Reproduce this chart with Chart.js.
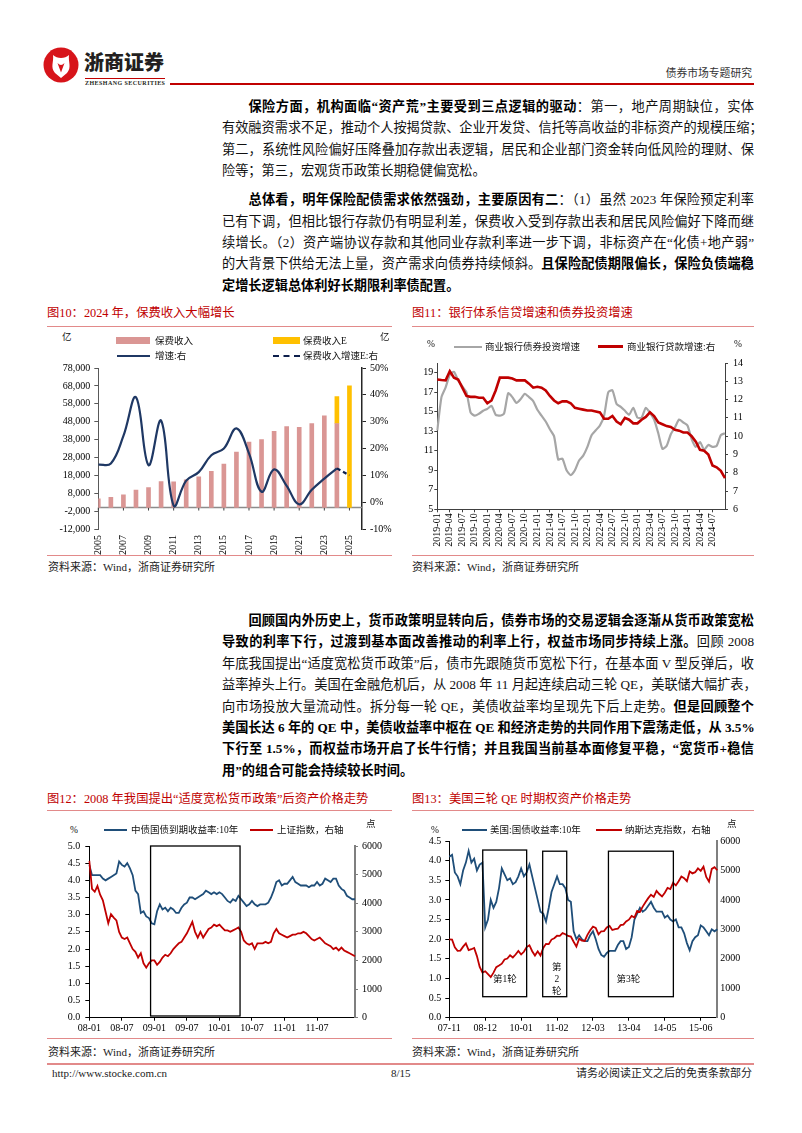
<!DOCTYPE html>
<html lang="zh-CN">
<head>
<meta charset="utf-8">
<title>债券市场专题研究</title>
<script src="https://cdn.jsdelivr.net/npm/chart.js@4.4.1/dist/chart.umd.min.js"></script>
<style>
  body { margin: 0; background: #fff; }
  #page { position: relative; width: 802px; height: 1133px; overflow: hidden; background: #fff;
          font-family: 'Liberation Serif', 'Noto Sans CJK SC', serif; color: #111; }
  .abs { position: absolute; white-space: nowrap; }
  .para { position: absolute; left: 222px; width: 532px; font-size: 13.2px; line-height: 21.4px; }
  .para div { height: 21.4px; white-space: nowrap; text-align: justify; text-align-last: justify; }
  .para div.ind { padding-left: 26.4px; }
  .para div.last { text-align-last: left; }
  .para b { font-weight: bold; color: #000; }
  .title { position: absolute; font-size: 12.3px; color: #c00000; white-space: nowrap; line-height: 14px; }
  .rule { position: absolute; height: 1px; background: #e28a8a; }
  .src { position: absolute; font-size: 11px; color: #222; white-space: nowrap; line-height: 12px; }
  .lg { position: absolute; font-size: 9.5px; color: #111; white-space: nowrap; line-height: 10px; }
  canvas { position: absolute; }
</style>
</head>
<body>
<div id="page">
  <!-- header -->
  <svg class="abs" style="left:43px;top:47px" width="36" height="36" viewBox="0 0 36 36">
    <circle cx="18" cy="18" r="17.5" fill="#d7141a"/>
    <path d="M10 8 C 14 12, 22 12, 26 8 C 25 15, 29 20, 24 26 L 18 31 L 12 26 C 7 20, 11 15, 10 8 Z" fill="#fff"/>
    <path d="M14.5 16 C 17 18.5, 19 18.5, 21.5 16 L 18 25.5 Z" fill="#d7141a"/>
  </svg>
  <div class="abs" style="left:84px;top:50px;font-size:20px;font-weight:900;color:#231f20;line-height:24px;font-family:'Noto Sans CJK SC'">浙商证券</div>
  <div class="abs" style="left:85px;top:78px;width:80px;height:1px;background:#c00000"></div>
  <div class="abs" style="left:85px;top:79.5px;font-size:6px;font-weight:bold;letter-spacing:0.45px;color:#231f20;line-height:7px">ZHESHANG SECURITIES</div>
  <div class="abs" style="left:170px;top:83px;width:584px;height:2px;background:#c00000"></div>
  <div class="abs" style="right:50px;top:66px;font-size:10.8px;color:#333;line-height:14px">债券市场专题研究</div>

  <!-- paragraph 1 -->
  <div class="para" style="top:96px">
    <div class="ind"><b>保险方面，机构面临“资产荒”主要受到三点逻辑的驱动</b>：第一，地产周期缺位，实体</div>
    <div>有效融资需求不足，推动个人按揭贷款、企业开发贷、信托等高收益的非标资产的规模压缩；</div>
    <div>第二，系统性风险偏好压降叠加存款出表逻辑，居民和企业部门资金转向低风险的理财、保</div>
    <div class="last">险等；第三，宏观货币政策长期稳健偏宽松。</div>
  </div>
  <!-- paragraph 2 -->
  <div class="para" style="top:189.3px">
    <div class="ind"><b>总体看，明年保险配债需求依然强劲，主要原因有二</b>：（1）虽然 2023 年保险预定利率</div>
    <div>已有下调，但相比银行存款仍有明显利差，保费收入受到存款出表和居民风险偏好下降而继</div>
    <div>续增长。（2）资产端协议存款和其他同业存款利率进一步下调，非标资产在“化债+地产弱”</div>
    <div>的大背景下供给无法上量，资产需求向债券持续倾斜。<b>且保险配债期限偏长，保险负债端稳</b></div>
    <div class="last"><b>定增长逻辑总体利好长期限利率债配置。</b></div>
  </div>

  <!-- figure titles row 1 -->
  <div class="title" style="left:47px;top:306px">图10：2024 年，保费收入大幅增长</div>
  <div class="rule" style="left:47px;top:326px;width:345px"></div>
  <div class="title" style="left:412px;top:306px">图11：银行体系信贷增速和债券投资增速</div>
  <div class="rule" style="left:412px;top:326px;width:342px"></div>

  <canvas id="chart10" width="360" height="197" style="left:40px;top:358px"></canvas>
  <canvas id="chart11" width="360" height="200" style="left:405px;top:352px"></canvas>

  <!-- legend chart 10 -->
  <div class="lg" style="left:62px;top:332px">亿</div>
  <div class="abs" style="left:116px;top:337px;width:34px;height:7px;background:#da9694"></div>
  <div class="lg" style="left:155px;top:335.5px">保费收入</div>
  <div class="abs" style="left:273px;top:337px;width:27px;height:7px;background:#ffc000"></div>
  <div class="lg" style="left:303px;top:335.5px">保费收入E</div>
  <div class="lg" style="left:380px;top:332px">亿</div>
  <div class="abs" style="left:117px;top:355px;width:33px;height:0;border-top:2px solid #1f3864"></div>
  <div class="lg" style="left:155px;top:351px">增速:右</div>
  <div class="abs" style="left:273px;top:355px;width:27px;height:0;border-top:2px dashed #0d1f4c"></div>
  <div class="lg" style="left:303px;top:351px">保费收入增速E:右</div>

  <!-- legend chart 11 -->
  <div class="lg" style="left:427px;top:339px">%</div>
  <div class="abs" style="left:454px;top:345.5px;width:28px;height:2.5px;background:#a6a6a6"></div>
  <div class="lg" style="left:485px;top:342px">商业银行债券投资增速</div>
  <div class="abs" style="left:598px;top:345px;width:25px;height:3px;background:#c00000"></div>
  <div class="lg" style="left:627px;top:342px">商业银行贷款增速:右</div>
  <div class="lg" style="left:734px;top:339px">%</div>

  <div class="rule" style="left:47px;top:555px;width:345px"></div>
  <div class="src" style="left:48px;top:561px">资料来源：Wind，浙商证券研究所</div>
  <div class="rule" style="left:412px;top:555px;width:342px"></div>
  <div class="src" style="left:412px;top:561px">资料来源：Wind，浙商证券研究所</div>

  <!-- paragraph 3 -->
  <div class="para" style="top:610px">
    <div class="ind"><b>回顾国内外历史上，货币政策明显转向后，债券市场的交易逻辑会逐渐从货币政策宽松</b></div>
    <div><b>导致的利率下行，过渡到基本面改善推动的利率上行，权益市场同步持续上涨。</b>回顾 2008</div>
    <div>年底我国提出“适度宽松货币政策”后，债市先跟随货币宽松下行，在基本面 V 型反弹后，收</div>
    <div>益率掉头上行。美国在金融危机后，从 2008 年 11 月起连续启动三轮 QE，美联储大幅扩表，</div>
    <div>向市场投放大量流动性。拆分每一轮 QE，美债收益率均呈现先下后上走势。<b>但是回顾整个</b></div>
    <div><b>美国长达 6 年的 QE 中，美债收益率中枢在 QE 和经济走势的共同作用下震荡走低，从 3.5%</b></div>
    <div><b>下行至 1.5%，而权益市场开启了长牛行情；并且我国当前基本面修复平稳，“宽货币+稳信</b></div>
    <div class="last"><b>用”的组合可能会持续较长时间。</b></div>
  </div>

  <!-- figure titles row 2 -->
  <div class="title" style="left:47px;top:792px">图12：2008 年我国提出“适度宽松货币政策”后资产价格走势</div>
  <div class="rule" style="left:47px;top:810px;width:345px"></div>
  <div class="title" style="left:412px;top:792px">图13：美国三轮 QE 时期权资产价格走势</div>
  <div class="rule" style="left:412px;top:810px;width:342px"></div>

  <canvas id="chart12" width="360" height="203" style="left:40px;top:835px"></canvas>
  <canvas id="chart13" width="360" height="207" style="left:405px;top:831px"></canvas>

  <!-- legend chart 12 -->
  <div class="lg" style="left:70px;top:825px">%</div>
  <div class="abs" style="left:104px;top:829px;width:23px;height:2px;background:#1f4e79"></div>
  <div class="lg" style="left:131px;top:825px">中债国债到期收益率:10年</div>
  <div class="abs" style="left:250px;top:829px;width:23px;height:2px;background:#c00000"></div>
  <div class="lg" style="left:277px;top:825px">上证指数，右轴</div>
  <div class="lg" style="left:366px;top:819px">点</div>

  <!-- legend chart 13 -->
  <div class="lg" style="left:431px;top:825px">%</div>
  <div class="abs" style="left:462px;top:829px;width:25px;height:2px;background:#1f4e79"></div>
  <div class="lg" style="left:490px;top:825px">美国:国债收益率:10年</div>
  <div class="abs" style="left:596px;top:829px;width:26px;height:2px;background:#c00000"></div>
  <div class="lg" style="left:625px;top:825px">纳斯达克指数，右轴</div>
  <div class="lg" style="left:727px;top:819px">点</div>

  <div class="rule" style="left:47px;top:1038px;width:345px"></div>
  <div class="src" style="left:48px;top:1046px">资料来源：Wind，浙商证券研究所</div>
  <div class="rule" style="left:412px;top:1038px;width:342px"></div>
  <div class="src" style="left:412px;top:1046px">资料来源：Wind，浙商证券研究所</div>

  <!-- footer -->
  <div class="abs" style="left:47px;top:1063px;width:707px;height:1.5px;background:#e28a8a"></div>
  <div class="src" style="left:52px;top:1067px">http://www.stocke.com.cn</div>
  <div class="src" style="left:391px;top:1067px">8/15</div>
  <div class="src" style="right:50px;top:1067px">请务必阅读正文之后的免责条款部分</div>
</div>

<script>
// ---- 图10 保费收入 ----
const years10 = ["2005", "2006", "2007", "2008", "2009", "2010", "2011", "2012", "2013", "2014", "2015",
    "2016", "2017", "2018", "2019", "2020", "2021", "2022", "2023", "2024", "2025", ""];
const premium = [4927, 5641, 7036, 9784, 11137, 14528, 14339, 15488, 17222, 20235, 24283,
    30959, 36581, 38017, 42645, 45257, 44900, 46957, 51247, 47000, null, null];
const premiumE = [null, null, null, null, null, null, null, null, null, null, null,
    null, null, null, null, null, null, null, null, 15000, 68000, null];
const growth = [14.0, 14.4, 24.7, 39.1, 13.8, 30.4, -1.3, 8.0, 11.2, 17.5, 20.0,
    27.5, 18.2, 3.9, 12.2, 6.1, -0.8, 4.6, 8.8, 12.6, null, null];
const growthE = [null, null, null, null, null, null, null, null, null, null, null,
    null, null, null, null, null, null, null, null, 12.6, 10.0, null];
const ticksYi = [-12000, -2000, 8000, 18000, 28000, 38000, 48000, 58000, 68000, 78000];
const ticksPct = [-10, 0, 10, 20, 30, 40, 50];

// ---- 图11 银行信贷与债券投资 ----
const months11 = [];
for (let y = 2019; y <= 2024; y++) {
    for (let m = 1; m <= 12; m++) {
        if (y < 2024 || m <= 10) months11.push(y + "-" + String(m).padStart(2, "0"));
    }
}
const bondGrowth = [13.1, 16.5, 17.5, 18.8, 19.1, 18.2, 17.6, 17.0, 14.9, 14.6,
    14.8, 15.1, 15.3, 15.6, 14.7, 14.6, 14.8, 16.9, 16.5, 15.9,
    16.3, 16.85, 16.5, 16.1, 15.2, 14.6, 14.0, 13.2, 12.5, 10.1,
    10.2, 9.0, 8.5, 9.0, 10.0, 10.5, 11.4, 12.6, 13.1, 13.6,
    14.6, 17.0, 17.2, 15.8, 15.5, 15.1, 14.7, 15.4, 14.4, 14.4,
    15.4, 14.9, 14.2, 12.8, 11.2, 11.5, 12.7, 13.4, 14.2, 13.9,
    13.6, 12.2, 11.4, 11.9, 11.1, 11.6, 11.4, 11.5, 12.6, 12.8];
const loanGrowth = [13.1, 13.07, 13.05, 13.55, 13.2, 13.1, 12.65, 12.2, 12.15, 12.15,
    12.1, 12.1, 11.8, 11.95, 12.5, 13.2, 13.2, 13.2, 13.15, 13.05,
    13.05, 13.05, 12.87, 12.65, 12.7, 12.65, 12.5, 12.2, 11.95, 11.8,
    11.9, 11.9, 11.8, 11.55, 11.5, 11.45, 11.4, 11.4, 11.35, 11.3,
    10.95, 10.95, 11.1, 10.8, 10.65, 11.0, 10.9, 10.7, 10.7, 10.9,
    11.05, 11.3, 11.1, 10.75, 10.65, 10.55, 10.5, 10.35, 10.3, 10.2,
    10.2, 10.0, 9.7, 9.25, 9.2, 9.0, 8.4, 8.3, 8.1, 7.7];
const ticksLeft11 = [5, 7, 9, 11, 13, 15, 17, 19];
const ticksRight11 = [6, 7, 8, 9, 10, 11, 12, 13, 14];

// ---- 图12 2008年适度宽松 (半月) ----
const cnYield = [4.45, 4.15, 4.15, 4.15, 4.15, 4.05, 4.0, 4.05, 4.1, 4.15,
    4.2, 4.55, 4.45, 4.4, 4.5, 4.35, 4.15, 3.7, 3.6, 3.05,
    3.1, 2.95, 2.9, 2.75, 2.72, 3.1, 3.3, 3.15, 3.2, 3.1,
    3.2, 3.15, 3.05, 3.05, 3.2, 3.3, 3.35, 3.5, 3.5, 3.45,
    3.5, 3.55, 3.6, 3.7, 3.65, 3.6, 3.65, 3.6, 3.65, 3.6,
    3.5, 3.4, 3.35, 3.45, 3.4, 3.55, 3.45, 3.35, 3.25, 3.3,
    3.4, 3.3, 3.25, 3.3, 3.3, 3.3, 3.35, 3.5, 3.7, 3.95,
    4.0, 3.85, 3.9, 3.9, 4.0, 4.1, 3.95, 3.9, 3.85, 3.85,
    3.85, 3.8, 3.85, 3.85, 3.95, 3.85, 3.9, 4.05, 4.0, 3.95,
    4.05, 4.05, 3.85, 3.75, 3.7, 3.55, 3.5, 3.45, 3.45];
const shIndex = [5480, 4500, 4400, 4600, 4300, 4100, 3700, 3300, 3620, 3500,
    3400, 3000, 2800, 2750, 2800, 2600, 2400, 2300, 2100, 2250,
    1900, 1750, 1900, 2000, 2000, 1850, 1950, 2100, 2200, 2150,
    2250, 2400, 2500, 2600, 2650, 2800, 2950, 3150, 3350, 3000,
    2800, 3000, 2800, 2950, 3100, 3150, 3250, 3200, 3250, 3150,
    3050, 3050, 3000, 3050, 3100, 3150, 3000, 2700, 2600, 2550,
    2600, 2400, 2600, 2600, 2600, 2650, 2600, 2650, 2950, 3100,
    2950, 2900, 2850, 2800, 2850, 2900, 2900, 2950, 2950, 3000,
    2950, 2850, 2750, 2700, 2750, 2800, 2700, 2600, 2550, 2500,
    2400, 2450, 2350, 2450, 2350, 2300, 2250, 2200, 2150];
const halfMonths12 = cnYield.map((_, i) => {
    const m = Math.floor(i / 2);
    return String(8 + Math.floor(m / 12)).padStart(2, "0") + "-" + String((m % 12) + 1).padStart(2, "0");
});
const cnBox = [22.6, 55.6, 0.05, 5.0]; // from, to (point index), low, high (%)
const ticksYield12 = [0, 0.5, 1, 1.5, 2, 2.5, 3, 3.5, 4, 4.5, 5];
const ticksPoint = [0, 1000, 2000, 3000, 4000, 5000, 6000];

// ---- 图13 美国三轮QE (月) ----
const usYield = [4.1, 4.15, 3.7, 3.6, 3.4, 3.75, 3.95, 4.25, 3.95, 4.05,
    3.75, 3.9, 3.95, 2.3, 2.5, 3.0, 2.8, 2.95, 3.3, 3.8,
    3.65, 3.5, 3.55, 3.4, 3.45, 3.6, 3.8, 3.6, 3.7, 3.9,
    3.6, 3.3, 3.0, 2.7, 2.65, 2.45, 2.8, 3.2, 3.4, 3.6,
    3.4, 3.4, 3.3, 3.0, 2.95, 2.2, 2.0, 2.1, 2.0, 1.95,
    1.95, 2.1, 2.2, 2.0, 1.75, 1.6, 1.55, 1.65, 1.7, 1.7,
    1.7, 1.85, 1.95, 1.95, 1.75, 1.8, 2.05, 2.5, 2.65, 2.8,
    2.7, 2.75, 2.85, 2.95, 2.8, 2.7, 2.7, 2.7, 2.55, 2.6,
    2.5, 2.45, 2.5, 2.3, 2.3, 2.15, 1.9, 1.72, 1.95, 2.05,
    2.1, 2.35, 2.3, 2.2, 2.1, 2.25, 2.2, 2.25];
const nasdaq = [2661, 2652,
    2390, 2271, 2279, 2413, 2523, 2293, 2326, 2368, 2092, 1721, 1536, 1577,
    1476, 1378, 1529, 1717, 1774, 1835, 1979, 2009, 2122, 2045, 2145, 2269,
    2147, 2238, 2398, 2461, 2257, 2109, 2255, 2114, 2369, 2507, 2498, 2653,
    2700, 2782, 2781, 2874, 2835, 2774, 2756, 2579, 2415, 2684, 2620, 2605,
    2814, 2967, 3092, 3046, 2827, 2935, 2940, 3067, 3116, 2977, 3010, 3020,
    3142, 3160, 3268, 3329, 3456, 3403, 3626, 3590, 3771, 3920, 4060, 4177,
    4104, 4308, 4199, 4115, 4243, 4408, 4370, 4580, 4493, 4631, 4792, 4736,
    4635, 4964, 4901, 4941, 5070, 4987, 5128, 4777, 4620, 5054, 5109, 5007];
const months13 = usYield.map((_, i) => {
    const m = 10 + i;
    return String(7 + Math.floor(m / 12)).padStart(2, "0") + "-" + String((m % 12) + 1).padStart(2, "0");
});
const qeFrom = [12.1, 33.8, 57.6];
const qeTo = [28.0, 42.5, 81.1];
const qeHigh = [4.27, 4.24, 4.24];
const qeLow = 0.535;
const qeNames = ["第1轮", "第\n2\n轮", "第3轮"];
const qeNameAt = [20.1, 38.9, 64.8];
const qeNameY = 0.98;
const ticksYield13 = [0, 0.5, 1, 1.5, 2, 2.5, 3, 3.5, 4, 4.5];

Chart.defaults.font.family = "'Liberation Serif', 'Noto Sans CJK SC', serif";
Chart.defaults.font.size = 10;
Chart.defaults.color = "#000";
Chart.defaults.animation = false;
Chart.defaults.plugins.legend.display = false;
Chart.defaults.plugins.tooltip.enabled = false;
Chart.defaults.elements.point.radius = 0;

const setTicks = (values) => (scale) => { scale.ticks = values.map((v) => ({ value: v })); };
const fixWidth = (w) => (scale) => { scale.width = w; };
const fixHeight = (h) => (scale) => { scale.height = h; };

function yAxis(position, min, max, values, width, opts) {
    return {
        position: position, min: min, max: max,
        grid: { display: true, drawOnChartArea: false, tickLength: opts.tick, color: opts.color },
        border: { display: true, color: opts.color, width: opts.lw || 1 },
        ticks: { padding: opts.pad, callback: opts.fmt, font: { size: 10 } },
        afterBuildTicks: setTicks(values),
        afterFit: fixWidth(width),
    };
}

// horizontal line at 0 with little ticks under the labelled years
const zeroLine = {
    id: "zeroLine",
    beforeDatasetsDraw(chart) {
        const { ctx, chartArea, scales } = chart;
        const y0 = scales.y.getPixelForValue(0);
        ctx.save();
        ctx.strokeStyle = "#8c8c8c";
        ctx.lineWidth = 1.5;
        ctx.beginPath();
        ctx.moveTo(chartArea.left, y0);
        ctx.lineTo(chartArea.right, y0);
        ctx.stroke();
        ctx.strokeStyle = "#404040";
        ctx.lineWidth = 1;
        scales.x.ticks.forEach((t) => {
            const x = scales.x.getPixelForValue(t.value);
            ctx.beginPath();
            ctx.moveTo(x, y0);
            ctx.lineTo(x, y0 + 3);
            ctx.stroke();
        });
        ctx.restore();
    },
};

// rectangles marking periods, plus their labels
const periodBoxes = {
    id: "periodBoxes",
    afterDatasetsDraw(chart, args, opts) {
        const { ctx } = chart;
        const x = chart.scales.x;
        const y = chart.scales.y;
        ctx.save();
        ctx.strokeStyle = "#000";
        ctx.lineWidth = 1.3;
        opts.boxes.forEach((b) => {
            const l = x.getPixelForValue(b.from);
            const r = x.getPixelForValue(b.to);
            const t = y.getPixelForValue(b.high);
            const btm = y.getPixelForValue(b.low);
            ctx.strokeRect(l, t, r - l, btm - t);
            if (b.name) {
                const lines = b.name.split("\n");
                const cx = x.getPixelForValue(b.nameAt);
                const cy = y.getPixelForValue(b.nameY);
                ctx.fillStyle = "#111";
                ctx.font = "9.5px 'Liberation Serif', 'Noto Sans CJK SC'";
                ctx.textAlign = "center";
                ctx.textBaseline = "middle";
                lines.forEach((s, i) => {
                    ctx.fillText(s, cx, cy + (i - (lines.length - 1) / 2) * 12);
                });
            }
        });
        ctx.restore();
    },
};

document.addEventListener("DOMContentLoaded", () => {
    renderPremiumChart();
    renderBankChart();
    renderChinaChart();
    renderUsChart();
});

function renderPremiumChart() {
    const ctx = document.getElementById("chart10").getContext("2d");
    new Chart(ctx, {
        type: "bar",
        data: {
            labels: years10,
            datasets: [
                { type: "line", label: "增速:右", data: growth, yAxisID: "y1", borderColor: "#1f3864",
                  borderWidth: 2.2, tension: 0.4, order: 0, clip: 0 },
                { type: "line", label: "保费收入增速E:右", data: growthE, yAxisID: "y1", borderColor: "#0d1f4c",
                  borderWidth: 2.2, borderDash: [4, 3], order: 0 },
                { label: "保费收入", data: premium, backgroundColor: "#da9694", barThickness: 4, order: 1, clip: 0 },
                { label: "保费收入E", data: premiumE, backgroundColor: "#ffc000", barThickness: 4, order: 1, clip: 0 },
            ],
        },
        options: {
            responsive: false,
            layout: { padding: { top: 10, left: 0, right: 0, bottom: 0 } },
            scales: {
                x: {
                    stacked: true, offset: false,
                    grid: { display: false, drawTicks: false },
                    border: { display: false },
                    ticks: { autoSkip: false, minRotation: 90, maxRotation: 90, padding: 6 },
                    afterBuildTicks: (s) => { s.ticks = s.ticks.filter((t) => t.value % 2 === 0 && t.value <= 20); },
                    afterFit: fixHeight(26),
                },
                y: Object.assign(yAxis("left", -12000, 78000, ticksYi, 58.3,
                    { tick: 4, pad: 4, color: "#595959", fmt: (v) => v.toLocaleString("en-US") }), { stacked: true }),
                y1: yAxis("right", -10, 50, ticksPct, 38,
                    { tick: 4, pad: 4, color: "#262626", lw: 1.5, fmt: (v) => v + "%" }),
            },
        },
        plugins: [zeroLine],
    });
}

function renderBankChart() {
    const ctx = document.getElementById("chart11").getContext("2d");
    new Chart(ctx, {
        type: "line",
        data: {
            labels: months11,
            datasets: [
                { label: "商业银行贷款增速:右", data: loanGrowth, yAxisID: "y1", borderColor: "#c00000",
                  borderWidth: 2.6, tension: 0, order: 0 },
                { label: "商业银行债券投资增速", data: bondGrowth, yAxisID: "y", borderColor: "#a6a6a6",
                  borderWidth: 2.2, tension: 0.2, order: 1 },
            ],
        },
        options: {
            responsive: false,
            layout: { padding: { top: 10.7, left: 0, right: 0, bottom: 0 } },
            scales: {
                x: {
                    offset: false,
                    grid: { display: true, drawOnChartArea: false, tickLength: 3, color: "#404040" },
                    border: { display: true, color: "#404040" },
                    ticks: { autoSkip: false, minRotation: 90, maxRotation: 90, padding: 1 },
                    afterBuildTicks: (s) => { s.ticks = s.ticks.filter((t) => t.value % 3 === 0 && t.value <= 66); },
                    afterFit: fixHeight(42.7),
                },
                y: yAxis("left", 5, 20, ticksLeft11, 32.3, { tick: 3, pad: 1, color: "#404040" }),
                y1: yAxis("right", 6, 14, ticksRight11, 40, { tick: 3, pad: 5, color: "#404040" }),
            },
        },
    });
}

function renderChinaChart() {
    const ctx = document.getElementById("chart12").getContext("2d");
    new Chart(ctx, {
        type: "line",
        data: {
            labels: halfMonths12,
            datasets: [
                { label: "上证指数，右轴", data: shIndex, yAxisID: "y1", borderColor: "#c00000",
                  borderWidth: 1.8, tension: 0, order: 0 },
                { label: "中债国债到期收益率:10年", data: cnYield, yAxisID: "y", borderColor: "#1f4e79",
                  borderWidth: 1.8, tension: 0, order: 1 },
            ],
        },
        options: {
            responsive: false,
            layout: { padding: { top: 10, left: 0, right: 0, bottom: 0 } },
            scales: {
                x: {
                    offset: false,
                    grid: { display: true, drawOnChartArea: false, tickLength: 3, color: "#000" },
                    border: { display: true, color: "#000" },
                    ticks: { autoSkip: false, maxRotation: 0, padding: 2 },
                    afterBuildTicks: (s) => { s.ticks = s.ticks.filter((t) => t.value % 12 === 0 && t.value <= 84); },
                    afterFit: fixHeight(20.3),
                },
                y: yAxis("left", 0, 5, ticksYield12, 49.3,
                    { tick: 4, pad: 5, color: "#000", fmt: (v) => v.toFixed(1) }),
                y1: yAxis("right", 0, 6000, ticksPoint, 45,
                    { tick: 3, pad: 4, color: "#7f7f7f", lw: 2 }),
            },
            plugins: {
                periodBoxes: { boxes: [{ from: cnBox[0], to: cnBox[1], low: cnBox[2], high: cnBox[3] }] },
            },
        },
        plugins: [periodBoxes],
    });
}

function renderUsChart() {
    const ctx = document.getElementById("chart13").getContext("2d");
    const boxes = qeFrom.map((f, i) => ({
        from: f, to: qeTo[i], low: qeLow, high: qeHigh[i],
        name: qeNames[i], nameAt: qeNameAt[i], nameY: qeNameY,
    }));
    new Chart(ctx, {
        type: "line",
        data: {
            labels: months13,
            datasets: [
                { label: "纳斯达克指数，右轴", data: nasdaq, yAxisID: "y1", borderColor: "#c00000",
                  borderWidth: 1.8, tension: 0, order: 0 },
                { label: "美国:国债收益率:10年", data: usYield, yAxisID: "y", borderColor: "#1f4e79",
                  borderWidth: 1.8, tension: 0, order: 1 },
            ],
        },
        options: {
            responsive: false,
            layout: { padding: { top: 10, left: 0, right: 0, bottom: 0 } },
            scales: {
                x: {
                    offset: false,
                    grid: { display: true, drawOnChartArea: false, tickLength: 3, color: "#000" },
                    border: { display: true, color: "#000" },
                    ticks: { autoSkip: false, maxRotation: 0, padding: 2 },
                    afterBuildTicks: (s) => { s.ticks = s.ticks.filter((t) => t.value % 13 === 0); },
                    afterFit: fixHeight(20.3),
                },
                y: yAxis("left", 0, 4.5, ticksYield13, 44.3,
                    { tick: 4, pad: 4, color: "#000", fmt: (v) => v.toFixed(1) }),
                y1: yAxis("right", 0, 6000, ticksPoint, 47.7,
                    { tick: 0, pad: 3, color: "#7f7f7f", lw: 2 }),
            },
            plugins: { periodBoxes: { boxes: boxes } },
        },
        plugins: [periodBoxes],
    });
}
</script>
</body>
</html>
